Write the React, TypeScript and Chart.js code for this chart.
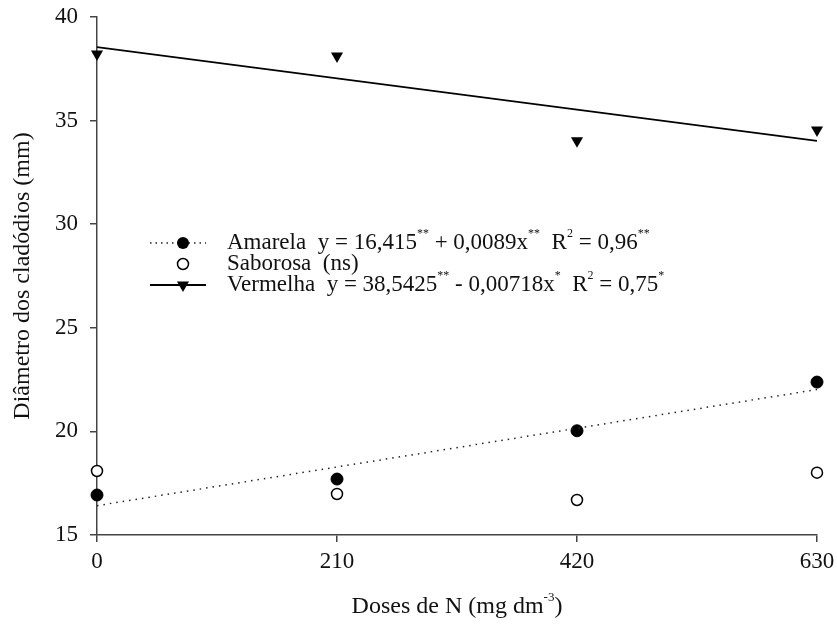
import React, { useEffect, useRef } from "react";
import { Chart, registerables } from "chart.js";

Chart.register(...registerables);

const doses = [0, 210, 420, 630];
const amarela = [16.93, 17.7, 20.03, 22.38];
const saborosa = [18.09, 16.98, 16.69, 18.01];
const vermelha = [38.22, 38.12, 34.03, 34.55];
const fitX = [0, 630];
const amarelaFit = [16.415, 22.02];
const vermelhaFit = [38.5425, 34.02];
const xTicks = [0, 210, 420, 630];
const yTicks = [15, 20, 25, 30, 35, 40];

type Seg = [string, string];
const xTitle: Seg[] = [["Doses de N (mg dm", "-3"], [")", ""]];
const yTitle = "Diâmetro dos cladódios (mm)";

const legendRows: { label: Seg[]; marker: string }[] = [
  {
    marker: "amarela",
    label: [
      ["Amarela  y = 16,415", "**"],
      [" + 0,0089x", "**"],
      ["  R", "2"],
      [" = 0,96", "**"],
    ],
  },
  { marker: "saborosa", label: [["Saborosa  (ns)", ""]] },
  {
    marker: "vermelha",
    label: [
      ["Vermelha  y = 38,5425", "**"],
      [" - 0,00718x", "*"],
      ["  R", "2"],
      [" = 0,75", "*"],
    ],
  },
];

const FONT = "'Liberation Serif', 'Times New Roman', serif";
const INK = "#111";
const AXIS = "#444";

function drawSegs(ctx: CanvasRenderingContext2D, segs: Seg[], x: number, y: number, size: number, supSize: number, align: "left" | "center") {
  ctx.textBaseline = "middle";
  ctx.textAlign = "left";
  let total = 0;
  for (const [t, s] of segs) {
    ctx.font = `${size}px ${FONT}`;
    total += ctx.measureText(t).width;
    ctx.font = `${supSize}px ${FONT}`;
    total += ctx.measureText(s).width;
  }
  let cx = align === "center" ? x - total / 2 : x;
  for (const [t, s] of segs) {
    ctx.font = `${size}px ${FONT}`;
    ctx.fillText(t, cx, y);
    cx += ctx.measureText(t).width;
    if (s) {
      ctx.font = `${supSize}px ${FONT}`;
      ctx.fillText(s, cx, y - size * 0.4);
      cx += ctx.measureText(s).width;
    }
  }
}

const overlay = {
  id: "overlay",
  afterDraw(chart: any) {
    const ctx: CanvasRenderingContext2D = chart.ctx;
    const area = chart.chartArea;
    ctx.save();
    ctx.fillStyle = INK;
    drawSegs(ctx, xTitle, (area.left + area.right) / 2, 607, 24, 13, "center");
    const rowY = [243, 264, 285];
    const mx = 183;
    legendRows.forEach((row, i) => {
      const y = rowY[i];
      ctx.save();
      if (row.marker === "amarela") {
        ctx.strokeStyle = "#222";
        ctx.lineWidth = 1.5;
        ctx.setLineDash([1.5, 4]);
        ctx.beginPath();
        ctx.moveTo(150, y);
        ctx.lineTo(206, y);
        ctx.stroke();
        ctx.setLineDash([]);
        ctx.fillStyle = "#000";
        ctx.beginPath();
        ctx.arc(mx, y, 6, 0, Math.PI * 2);
        ctx.fill();
      } else if (row.marker === "saborosa") {
        ctx.fillStyle = "#fff";
        ctx.strokeStyle = "#000";
        ctx.lineWidth = 1.5;
        ctx.beginPath();
        ctx.arc(mx, y, 5.5, 0, Math.PI * 2);
        ctx.fill();
        ctx.stroke();
      } else {
        ctx.strokeStyle = "#000";
        ctx.lineWidth = 1.8;
        ctx.beginPath();
        ctx.moveTo(150, y);
        ctx.lineTo(206, y);
        ctx.stroke();
        ctx.fillStyle = "#000";
        const r = 7;
        ctx.beginPath();
        ctx.moveTo(mx - r * 0.866, y - r * 0.5);
        ctx.lineTo(mx + r * 0.866, y - r * 0.5);
        ctx.lineTo(mx, y + r);
        ctx.closePath();
        ctx.fill();
      }
      ctx.restore();
      ctx.fillStyle = INK;
      drawSegs(ctx, row.label, 227, y, 23, 12, "left");
    });
    ctx.restore();
  },
};

export default function App() {
  const ref = useRef<HTMLCanvasElement | null>(null);
  useEffect(() => {
    if (!ref.current) return;
    const tickFont = { family: FONT, size: 23 };
    const chart = new Chart(ref.current, {
      type: "line",
      data: {
        datasets: [
          {
            label: "Amarela fit",
            data: fitX.map((x, i) => ({ x, y: amarelaFit[i] })),
            borderColor: "#222",
            borderWidth: 1.5,
            borderDash: [1.5, 5],
            pointRadius: 0,
            fill: false,
          },
          {
            label: "Vermelha fit",
            data: fitX.map((x, i) => ({ x, y: vermelhaFit[i] })),
            borderColor: "#000",
            borderWidth: 1.8,
            pointRadius: 0,
            fill: false,
          },
          {
            label: "Amarela",
            data: doses.map((x, i) => ({ x, y: amarela[i] })),
            showLine: false,
            pointStyle: "circle",
            pointRadius: 6,
            pointBackgroundColor: "#000",
            pointBorderColor: "#000",
            pointBorderWidth: 1,
            clip: false,
          },
          {
            label: "Saborosa",
            data: doses.map((x, i) => ({ x, y: saborosa[i] })),
            showLine: false,
            pointStyle: "circle",
            pointRadius: 5.5,
            pointBackgroundColor: "#fff",
            pointBorderColor: "#000",
            pointBorderWidth: 1.5,
            clip: false,
          },
          {
            label: "Vermelha",
            data: doses.map((x, i) => ({ x, y: vermelha[i] })),
            showLine: false,
            pointStyle: "triangle",
            pointRotation: 180,
            pointRadius: 7,
            pointBackgroundColor: "#000",
            pointBorderColor: "#000",
            pointBorderWidth: 0,
            clip: false,
          },
        ] as any,
      },
      options: {
        responsive: false,
        animation: false,
        events: [],
        layout: { padding: { top: 17, right: 20, left: 0, bottom: 0 } },
        plugins: { legend: { display: false }, tooltip: { enabled: false } },
        scales: {
          x: {
            type: "linear",
            min: 0,
            max: 630,
            afterBuildTicks: (s: any) => {
              s.ticks = xTicks.map((v) => ({ value: v }));
            },
            afterFit: (s: any) => {
              s.height = 96;
              s.paddingLeft = 0;
              s.paddingRight = 0;
            },
            grid: { drawOnChartArea: false, tickLength: 7, color: AXIS, lineWidth: 1.5 },
            border: { color: AXIS, width: 1.5 },
            ticks: { font: tickFont, color: INK, padding: 6, maxRotation: 0, autoSkip: false },
          },
          y: {
            type: "linear",
            min: 15,
            max: 40,
            afterBuildTicks: (s: any) => {
              s.ticks = yTicks.map((v) => ({ value: v }));
            },
            afterFit: (s: any) => {
              s.width = 97;
              s.paddingTop = 0;
              s.paddingBottom = 0;
            },
            grid: { drawOnChartArea: false, tickLength: 7, color: AXIS, lineWidth: 1.5 },
            border: { color: AXIS, width: 1.5 },
            ticks: { font: tickFont, color: INK, padding: 12, autoSkip: false },
            title: {
              display: true,
              text: yTitle,
              font: { family: FONT, size: 24 },
              color: INK,
              padding: { top: 8, bottom: 0 },
            },
          },
        },
      } as any,
      plugins: [overlay],
    });
    return () => chart.destroy();
  }, []);
  return (
    <div style={{ position: "absolute", left: 0, top: 0, width: 837, height: 631, background: "#fff" }}>
      <canvas ref={ref} width={837} height={631} style={{ display: "block" }} />
    </div>
  );
}
